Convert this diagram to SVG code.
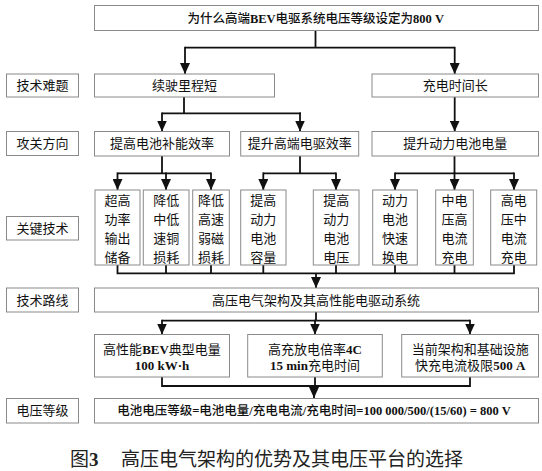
<svg xmlns="http://www.w3.org/2000/svg" width="542" height="471" viewBox="0 0 542 471">
<defs>
<style>
.b{fill:#fff;stroke:#8a8a8a;stroke-width:1}
.t{font-family:"Liberation Serif","Noto Sans CJK SC",serif;font-size:13px;fill:#111;text-anchor:middle}
.tb{font-family:"Liberation Serif","Noto Sans CJK SC",serif;font-size:12.5px;fill:#111;text-anchor:middle;font-weight:500}
.lat{font-weight:bold}
.c{fill:none;stroke:#111;stroke-width:1.8}
.cap{font-family:"Noto Sans CJK SC","Liberation Sans",sans-serif;font-size:19px;fill:#222}
</style>
<marker id="ah" viewBox="0 0 11 10" markerWidth="11" markerHeight="10" refX="11" refY="5" orient="auto" markerUnits="userSpaceOnUse">
<path d="M0,0 L11,5 L0,10 z" fill="#111"/>
</marker>
</defs>
<rect width="542" height="471" fill="#fff"/>

<g id="connectors">
<path class="c" d="M315.5,30.5 V47.7 M185,47.7 H454.7"/>
<path class="c" d="M185,46.8 V74" marker-end="url(#ah)"/>
<path class="c" d="M454.7,46.8 V74" marker-end="url(#ah)"/>
<path class="c" d="M184,97 V113.3 M162,113.3 H301"/>
<path class="c" d="M162,112.4 V131.5" marker-end="url(#ah)"/>
<path class="c" d="M300,112.4 V131.5" marker-end="url(#ah)"/>
<path class="c" d="M454.7,97 V131.5" marker-end="url(#ah)"/>
<path class="c" d="M162,156 V173.3 M117.5,173.3 H211"/>
<path class="c" d="M117.5,172.4 V190" marker-end="url(#ah)"/>
<path class="c" d="M166,172.4 V190" marker-end="url(#ah)"/>
<path class="c" d="M211,172.4 V190" marker-end="url(#ah)"/>
<path class="c" d="M300,156 V173.3 M263.3,173.3 H336"/>
<path class="c" d="M263.3,172.4 V190" marker-end="url(#ah)"/>
<path class="c" d="M336,172.4 V190" marker-end="url(#ah)"/>
<path class="c" d="M454.5,156 V173.3 M395,173.3 H514"/>
<path class="c" d="M395,172.4 V190" marker-end="url(#ah)"/>
<path class="c" d="M454.5,172.4 V190" marker-end="url(#ah)"/>
<path class="c" d="M514,172.4 V190" marker-end="url(#ah)"/>
<path class="c" d="M117.5,265 V273.3 M166,265 V273.3 M211,265 V273.3 M263.3,265 V273.3 M336,265 V273.3 M395,265 V273.3 M454.5,265 V273.3 M514,265 V273.3 M116.6,273.3 H514.9"/>
<path class="c" d="M316,273.3 V288" marker-end="url(#ah)"/>
<path class="c" d="M316,312 V320.7 M162,320.7 H470"/>
<path class="c" d="M162,319.8 V334.5" marker-end="url(#ah)"/>
<path class="c" d="M315,319.8 V334.5" marker-end="url(#ah)"/>
<path class="c" d="M470,319.8 V334.5" marker-end="url(#ah)"/>
<path class="c" d="M162,377 V386 M315,377 V386 M470,377 V386 M161.1,386 H470.9"/>
<path class="c" d="M314,386 V398" marker-end="url(#ah)"/>
</g>

<g id="title">
<rect class="b" x="94.5" y="5.5" width="444" height="25"/>
<text class="tb" x="315.7" y="22.5">为什么高端<tspan class="lat">BEV</tspan>电驱系统电压等级设定为<tspan class="lat">800 V</tspan></text>
</g>

<g id="label-nanti"><rect class="b" x="6.5" y="74" width="72" height="23"/><text class="t" x="42.5" y="90">技术难题</text></g>
<g id="label-gongguan"><rect class="b" x="6.5" y="131.5" width="72" height="24"/><text class="t" x="42.5" y="148.3">攻关方向</text></g>
<g id="label-guanjian"><rect class="b" x="6.5" y="216.5" width="72" height="23.5"/><text class="t" x="42.5" y="232.8">关键技术</text></g>
<g id="label-luxian"><rect class="b" x="6.5" y="288" width="72" height="24"/><text class="t" x="42.5" y="304.5">技术路线</text></g>
<g id="label-dianya"><rect class="b" x="6.5" y="398.5" width="72" height="24.5"/><text class="t" x="42.5" y="415.3">电压等级</text></g>

<g id="xushi"><rect class="b" x="94.5" y="74" width="180" height="23"/><text class="t" x="184.5" y="90">续驶里程短</text></g>
<g id="chongdian"><rect class="b" x="372" y="74" width="166.5" height="23"/><text class="t" x="455.3" y="90">充电时间长</text></g>

<g id="buneng"><rect class="b" x="94.5" y="131.5" width="135" height="24.5"/><text class="t" x="162" y="148.3">提高电池补能效率</text></g>
<g id="diangu"><rect class="b" x="240.7" y="131.5" width="118" height="24.5"/><text class="t" x="299.7" y="148.3">提升高端电驱效率</text></g>
<g id="dianliang"><rect class="b" x="372" y="131.5" width="166.5" height="24.5"/><text class="t" x="455.3" y="148.3">提升动力电池电量</text></g>

<g id="k1"><rect class="b" x="95" y="190" width="45" height="75"/><text class="t" x="117.5" y="205">超高</text><text class="t" x="117.5" y="224">功率</text><text class="t" x="117.5" y="243">输出</text><text class="t" x="117.5" y="262">储备</text></g>
<g id="k2"><rect class="b" x="143.3" y="190" width="45.7" height="75"/><text class="t" x="166.2" y="205">降低</text><text class="t" x="166.2" y="224">中低</text><text class="t" x="166.2" y="243">速铜</text><text class="t" x="166.2" y="262">损耗</text></g>
<g id="k3"><rect class="b" x="192.7" y="190" width="36.6" height="75"/><text class="t" x="211" y="205">降低</text><text class="t" x="211" y="224">高速</text><text class="t" x="211" y="243">弱磁</text><text class="t" x="211" y="262">损耗</text></g>
<g id="k4"><rect class="b" x="240.7" y="190" width="45.3" height="75"/><text class="t" x="263.3" y="205">提高</text><text class="t" x="263.3" y="224">动力</text><text class="t" x="263.3" y="243">电池</text><text class="t" x="263.3" y="262">容量</text></g>
<g id="k5"><rect class="b" x="313.3" y="190" width="45.7" height="75"/><text class="t" x="336.2" y="205">提高</text><text class="t" x="336.2" y="224">动力</text><text class="t" x="336.2" y="243">电池</text><text class="t" x="336.2" y="262">电压</text></g>
<g id="k6"><rect class="b" x="372.7" y="190" width="44.6" height="75"/><text class="t" x="395" y="205">动力</text><text class="t" x="395" y="224">电池</text><text class="t" x="395" y="243">快速</text><text class="t" x="395" y="262">换电</text></g>
<g id="k7"><rect class="b" x="435.7" y="190" width="37.6" height="75"/><text class="t" x="454.5" y="205">中电</text><text class="t" x="454.5" y="224">压高</text><text class="t" x="454.5" y="243">电流</text><text class="t" x="454.5" y="262">充电</text></g>
<g id="k8"><rect class="b" x="490.7" y="190" width="46" height="75"/><text class="t" x="513.7" y="205">高电</text><text class="t" x="513.7" y="224">压中</text><text class="t" x="513.7" y="243">电流</text><text class="t" x="513.7" y="262">充电</text></g>

<g id="luxian"><rect class="b" x="94.5" y="288" width="444" height="24"/><text class="t" x="316" y="304.5">高压电气架构及其高性能电驱动系统</text></g>

<g id="b1"><rect class="b" x="94.5" y="334.5" width="135" height="42.5"/><text class="t" x="162" y="353.8">高性能<tspan class="lat">BEV</tspan>典型电量</text><text class="t lat" x="162" y="369.5">100 kW·h</text></g>
<g id="b2"><rect class="b" x="247.7" y="334.5" width="134.6" height="42.5"/><text class="t" x="315" y="353.8">高充放电倍率<tspan class="lat">4C</tspan></text><text class="t" x="315" y="369.5"><tspan class="lat">15 min</tspan>充电时间</text></g>
<g id="b3"><rect class="b" x="401.7" y="334.5" width="136.8" height="42.5"/><text class="t" x="470.2" y="353.8">当前架构和基础设施</text><text class="t" x="470.2" y="369.5">快充电流极限<tspan class="lat">500 A</tspan></text></g>

<g id="formula"><rect class="b" x="94.5" y="398.5" width="444" height="24.5"/><text class="tb" x="314" y="415.3">电池电压等级<tspan class="lat">=</tspan>电池电量<tspan class="lat">/</tspan>充电电流<tspan class="lat">/</tspan>充电时间<tspan class="lat">=100 000/500/(15/60) = 800 V</tspan></text></g>

<g id="caption">
<text class="cap" x="70" y="466">图<tspan font-family="Liberation Serif" font-weight="bold">3</tspan></text>
<text class="cap" x="121" y="466">高压电气架构的优势及其电压平台的选择</text>
</g>
</svg>
